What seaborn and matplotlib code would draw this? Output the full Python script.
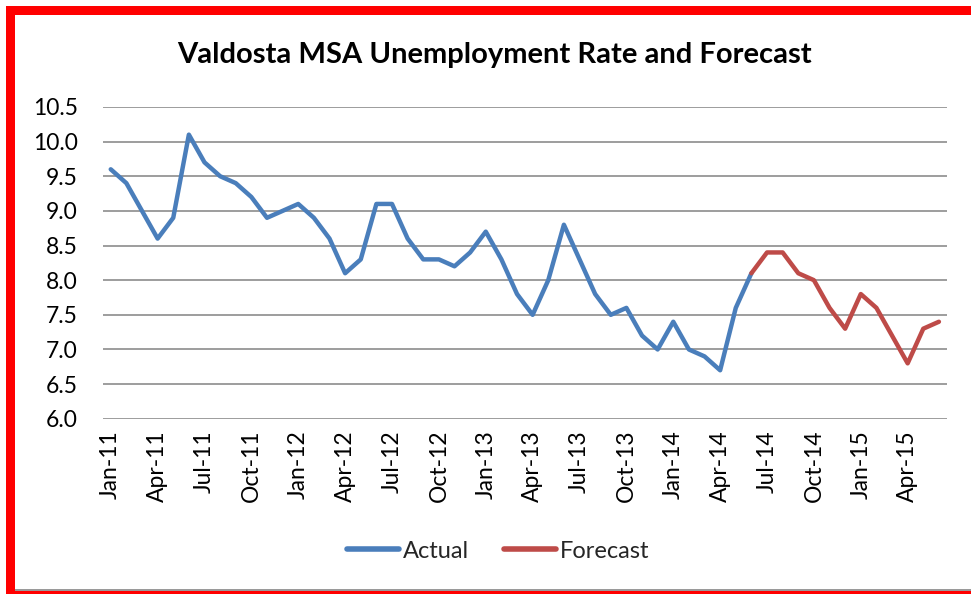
import pandas as pd
import matplotlib
matplotlib.use("Agg")
import matplotlib.pyplot as plt
import matplotlib.ticker as mticker
from matplotlib.patches import Rectangle
import seaborn as sns

# Datos: tasa de desempleo mensual (Jan-11 .. Jun-15)
actual = [9.6, 9.4, 9.0, 8.6, 8.9, 10.1, 9.7, 9.5, 9.4, 9.2, 8.9, 9.0,
          9.1, 8.9, 8.6, 8.1, 8.3, 9.1, 9.1, 8.6, 8.3, 8.3, 8.2, 8.4,
          8.7, 8.3, 7.8, 7.5, 8.0, 8.8, 8.3, 7.8, 7.5, 7.6, 7.2, 7.0,
          7.4, 7.0, 6.9, 6.7, 7.6, 8.1]
forecast = [8.1, 8.4, 8.4, 8.1, 8.0, 7.6, 7.3, 7.8, 7.6, 7.2, 6.8, 7.3, 7.4]
tick_labels = ["Jan-11", "Apr-11", "Jul-11", "Oct-11", "Jan-12", "Apr-12",
               "Jul-12", "Oct-12", "Jan-13", "Apr-13", "Jul-13", "Oct-13",
               "Jan-14", "Apr-14", "Jul-14", "Oct-14", "Jan-15", "Apr-15"]
y_ticks = [6.0, 6.5, 7.0, 7.5, 8.0, 8.5, 9.0, 9.5, 10.0, 10.5]

n_months = len(actual) + len(forecast) - 1
forecast_start = len(actual) - 1

df = pd.concat([
    pd.DataFrame({"mes": range(len(actual)), "tasa": actual, "serie": "Actual"}),
    pd.DataFrame({"mes": range(forecast_start, forecast_start + len(forecast)),
                  "tasa": forecast, "serie": "Forecast"}),
])

sns.set_style("white")
plt.rcParams["font.family"] = ["Lato", "DejaVu Sans"]

fig = plt.figure(figsize=(9.71, 5.94), dpi=100)
ax = fig.add_axes([0.106, 0.295, 0.869, 0.525])

sns.lineplot(data=df, x="mes", y="tasa", hue="serie",
             palette={"Actual": "#4A7EBB", "Forecast": "#BE4B48"},
             linewidth=3.2, ax=ax)

ax.set_xlim(-0.5, n_months - 0.5)
ax.set_ylim(6.0, 10.5)
ax.set_yticks(y_ticks)
ax.yaxis.set_major_formatter(mticker.FormatStrFormatter("%.1f"))
ax.set_xticks(range(0, n_months, 3))
ax.set_xticklabels(tick_labels, rotation=90)
ax.tick_params(axis="y", length=0, pad=18, labelsize=16.5, colors="black")
ax.tick_params(axis="x", length=0, pad=8, labelsize=16.5, colors="black")
ax.set_xlabel("")
ax.set_ylabel("")
ax.grid(axis="y", color="#8c8c8c", linewidth=1.2)
ax.grid(axis="x", visible=False)
for s in ax.spines.values():
    s.set_visible(False)

# Leyenda debajo
leg = ax.legend(loc="center", bbox_to_anchor=(0.513, 0.072),
                bbox_transform=fig.transFigure, ncol=2, frameon=False,
                fontsize=17, handlelength=2.2, columnspacing=1.5,
                handletextpad=0.15)
for h in leg.get_lines():
    h.set_linewidth(4)

fig.text(0.509, 0.907, "Valdosta MSA Unemployment Rate and Forecast",
         ha="center", va="center", fontsize=21, fontweight="bold",
         color="black")

# Marco rojo
fig.add_artist(Rectangle((6 / 971, 1 - 15 / 594), 965 / 971, 9 / 594,
                         transform=fig.transFigure, color="red", lw=0))
fig.add_artist(Rectangle((6 / 971, 0), 9 / 971, 1 - 6 / 594,
                         transform=fig.transFigure, color="red", lw=0))
fig.add_artist(Rectangle((6 / 971, 0), 965 / 971, 3 / 594,
                         transform=fig.transFigure, color="red", lw=0))
fig.add_artist(Rectangle((15 / 971, 3 / 594), 956 / 971, 2 / 594,
                         transform=fig.transFigure, color="#9a9a9a", lw=0))

fig.savefig("out.png", dpi=100)
